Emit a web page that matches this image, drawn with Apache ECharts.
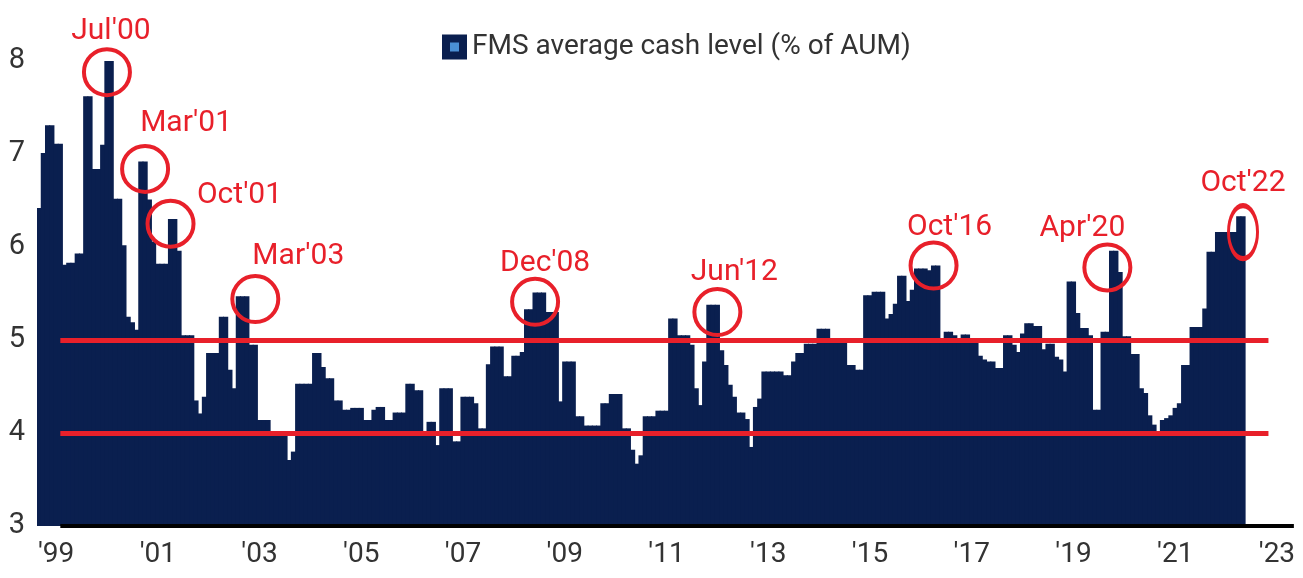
<!DOCTYPE html>
<html>
<head>
<meta charset="utf-8">
<script src="https://cdn.jsdelivr.net/npm/echarts/dist/echarts.min.js"></script>
<style>
  html, body { margin: 0; padding: 0; background: #fff; }
  #chart { width: 1303px; height: 578px; }
</style>
</head>
<body>
<div id="chart"></div>
<script>
// monthly categories, Feb'99 .. Oct'23 (axis runs past the last survey)
const firstYear = 1999;
const firstMonth = 1; // Feb
const monthCount = 297;
const monthNames = ['Jan', 'Feb', 'Mar', 'Apr', 'May', 'Jun', 'Jul', 'Aug', 'Sep', 'Oct', 'Nov', 'Dec'];
const months = [];
for (let i = 0; i < monthCount; i++) {
  const k = firstMonth + i;
  const y = firstYear + Math.floor(k / 12);
  months.push(monthNames[k % 12] + "'" + String(y).slice(-2));
}

// FMS average cash level (% of AUM), Feb'99 .. Oct'22
const cashLevel = [
  6.42, 7.01, 7.31, 7.31, 7.11, 7.11, 5.81, 5.83, 5.83, 5.93, 5.93,
  7.62, 7.62, 6.84, 6.84, 7.10, 8.00, 8.00, 6.52, 6.52, 6.02, 5.25, 5.19,
  5.11, 6.92, 6.92, 6.51, 6.06, 5.82, 5.82, 5.82, 6.30, 6.30, 5.96, 5.05,
  5.05, 5.05, 4.35, 4.21, 4.39, 4.86, 4.86, 4.86, 5.25, 5.25, 4.68, 4.48,
  5.47, 5.47, 5.47, 4.95, 4.95, 4.14, 4.14, 4.14, 3.97, 3.97, 3.97, 3.97,
  3.71, 3.80, 4.53, 4.53, 4.53, 4.53, 4.86, 4.86, 4.71, 4.59, 4.59, 4.35,
  4.35, 4.25, 4.25, 4.27, 4.27, 4.27, 4.14, 4.14, 4.25, 4.28, 4.28, 4.14,
  4.14, 4.22, 4.22, 4.22, 4.53, 4.53, 4.46, 4.46, 4.00, 4.12, 4.12, 3.87,
  4.48, 4.48, 4.48, 3.91, 3.91, 4.39, 4.39, 4.39, 4.32, 4.05, 4.05, 4.74,
  4.93, 4.93, 4.93, 4.61, 4.61, 4.83, 4.83, 4.87, 5.33, 5.33, 5.51, 5.51,
  5.51, 5.30, 5.30, 5.30, 4.34, 4.77, 4.77, 4.77, 4.18, 4.18, 4.08, 4.08,
  4.08, 4.08, 4.32, 4.32, 4.42, 4.42, 4.42, 4.05, 4.05, 3.82, 3.67, 3.76,
  4.18, 4.18, 4.18, 4.24, 4.24, 4.24, 5.23, 5.23, 5.05, 5.05, 5.05, 4.95,
  4.48, 4.30, 4.77, 5.38, 5.38, 5.38, 4.89, 4.73, 4.52, 4.39, 4.22, 4.22,
  4.15, 3.85, 4.28, 4.37, 4.66, 4.66, 4.66, 4.66, 4.66, 4.62, 4.62, 4.77,
  4.86, 4.86, 4.96, 4.96, 4.96, 5.12, 5.12, 5.12, 5.00, 4.98, 4.98, 4.98,
  4.73, 4.73, 4.68, 4.68, 5.48, 5.48, 5.52, 5.52, 5.52, 5.23, 5.28, 5.39,
  5.69, 5.69, 5.42, 5.54, 5.77, 5.77, 5.77, 5.75, 5.80, 5.80, 5.00, 5.09,
  5.09, 5.05, 5.00, 5.06, 5.06, 5.00, 5.00, 4.83, 4.79, 4.77, 4.77, 4.70,
  4.70, 5.05, 5.05, 4.95, 4.87, 5.07, 5.18, 5.18, 5.15, 5.15, 4.90, 4.96,
  4.96, 4.82, 4.79, 4.66, 5.63, 5.63, 5.29, 5.13, 5.13, 5.05, 4.25, 4.25,
  5.09, 5.09, 5.96, 5.96, 5.73, 5.04, 5.04, 4.85, 4.85, 4.48, 4.43, 4.19,
  4.09, 4.00, 4.14, 4.16, 4.19, 4.27, 4.32, 4.73, 4.73, 5.14, 5.14, 5.14,
  5.34, 5.95, 5.95, 6.16, 6.16, 6.16, 6.16, 6.16, 6.33, 6.33
];

const yTicks = [3, 4, 5, 6, 7, 8];
const bandLevels = [5, 4];
const peakLabels = ["Jul'00", "Mar'01", "Oct'01", "Mar'03", "Dec'08", "Jun'12", "Oct'16", "Apr'20", "Oct'22"];

const NAVY = '#0a1f4f';
const RED = '#e8202a';
const FONT = "Roboto, 'Open Sans', sans-serif";

// where each circle sits (category + value of its centre) and where its text goes
const peakLayout = {
  "Jul'00": { at: "Jun'00", y: 7.88, size: [46, 46], off: [4, -41] },
  "Mar'01": { at: "Mar'01", y: 6.84, size: [46, 46], off: [41, -45] },
  "Oct'01": { at: "Sep'01", y: 6.25, size: [46, 46], off: [69, -28] },
  "Mar'03": { at: "May'03", y: 5.44, size: [46, 46], off: [43, -43] },
  "Dec'08": { at: "Nov'08", y: 5.41, size: [46, 46], off: [10, -38] },
  "Jun'12": { at: "Jun'12", y: 5.30, size: [46, 46], off: [17, -40] },
  "Oct'16": { at: "Sep'16", y: 5.80, size: [46, 46], off: [16, -38] },
  "Apr'20": { at: "Feb'20", y: 5.78, size: [46, 46], off: [-25, -39] },
  "Oct'22": { at: "Oct'22", y: 6.16, size: [29, 53], off: [0, -49] }
};

const lineFrom = "Jul'99";
const redTo = "Apr'23";
const axisTo = months[months.length - 1];

const chart = echarts.init(document.getElementById('chart'));
chart.setOption({
  animation: false,
  grid: { left: 37, right: 7, top: 61, bottom: 52 },
  legend: {
    data: ['FMS average cash level (% of AUM)'],
    left: 437,
    top: 28,
    itemWidth: 17,
    itemHeight: 17,
    itemGap: 10,
    icon: 'rect',
    itemStyle: { color: '#4a8fd4', borderColor: NAVY, borderWidth: 8 },
    textStyle: { fontFamily: FONT, fontSize: 28, color: '#333', padding: [0, 0, 0, 4] }
  },
  xAxis: {
    type: 'category',
    data: months,
    boundaryGap: true,
    axisLine: { show: false },
    axisTick: { show: false },
    axisLabel: {
      interval: (i, v) => v.startsWith('Jun') && Number(v.slice(-2)) % 2 === 1,
      formatter: v => "'" + v.slice(-2),
      fontFamily: FONT,
      fontSize: 28,
      color: '#333',
      margin: 15
    }
  },
  yAxis: {
    type: 'value',
    min: yTicks[0],
    max: yTicks[yTicks.length - 1],
    interval: 1,
    splitLine: { show: false },
    axisLine: { show: false },
    axisTick: { show: false },
    axisLabel: { fontFamily: FONT, fontSize: 29, color: '#333', margin: 12 }
  },
  series: [{
    name: 'FMS average cash level (% of AUM)',
    type: 'bar',
    data: cashLevel,
    // slightly wider than the band so neighbouring bars merge into one block
    barWidth: 5.2,
    barGap: '0%',
    itemStyle: { color: NAVY },
    markLine: {
      silent: true,
      symbol: 'none',
      label: { show: false },
      data: [
        [{ coord: [lineFrom, yTicks[0]], lineStyle: { color: '#000', width: 4, type: 'solid' } },
         { coord: [axisTo, yTicks[0]] }],
        ...bandLevels.map(v => [
          { coord: [lineFrom, v], lineStyle: { color: RED, width: 5, type: 'solid' } },
          { coord: [redTo, v] }
        ])
      ]
    },
    markPoint: {
      silent: true,
      symbol: 'circle',
      itemStyle: { color: 'rgba(0,0,0,0)', borderColor: RED, borderWidth: 4 },
      label: { show: true, position: 'inside', color: RED, fontFamily: FONT, fontSize: 30 },
      data: peakLabels.map(name => {
        const p = peakLayout[name];
        return {
          name: name,
          coord: [p.at, p.y],
          symbolSize: p.size,
          label: { formatter: name, offset: p.off }
        };
      })
    }
  }]
});
</script>
</body>
</html>
